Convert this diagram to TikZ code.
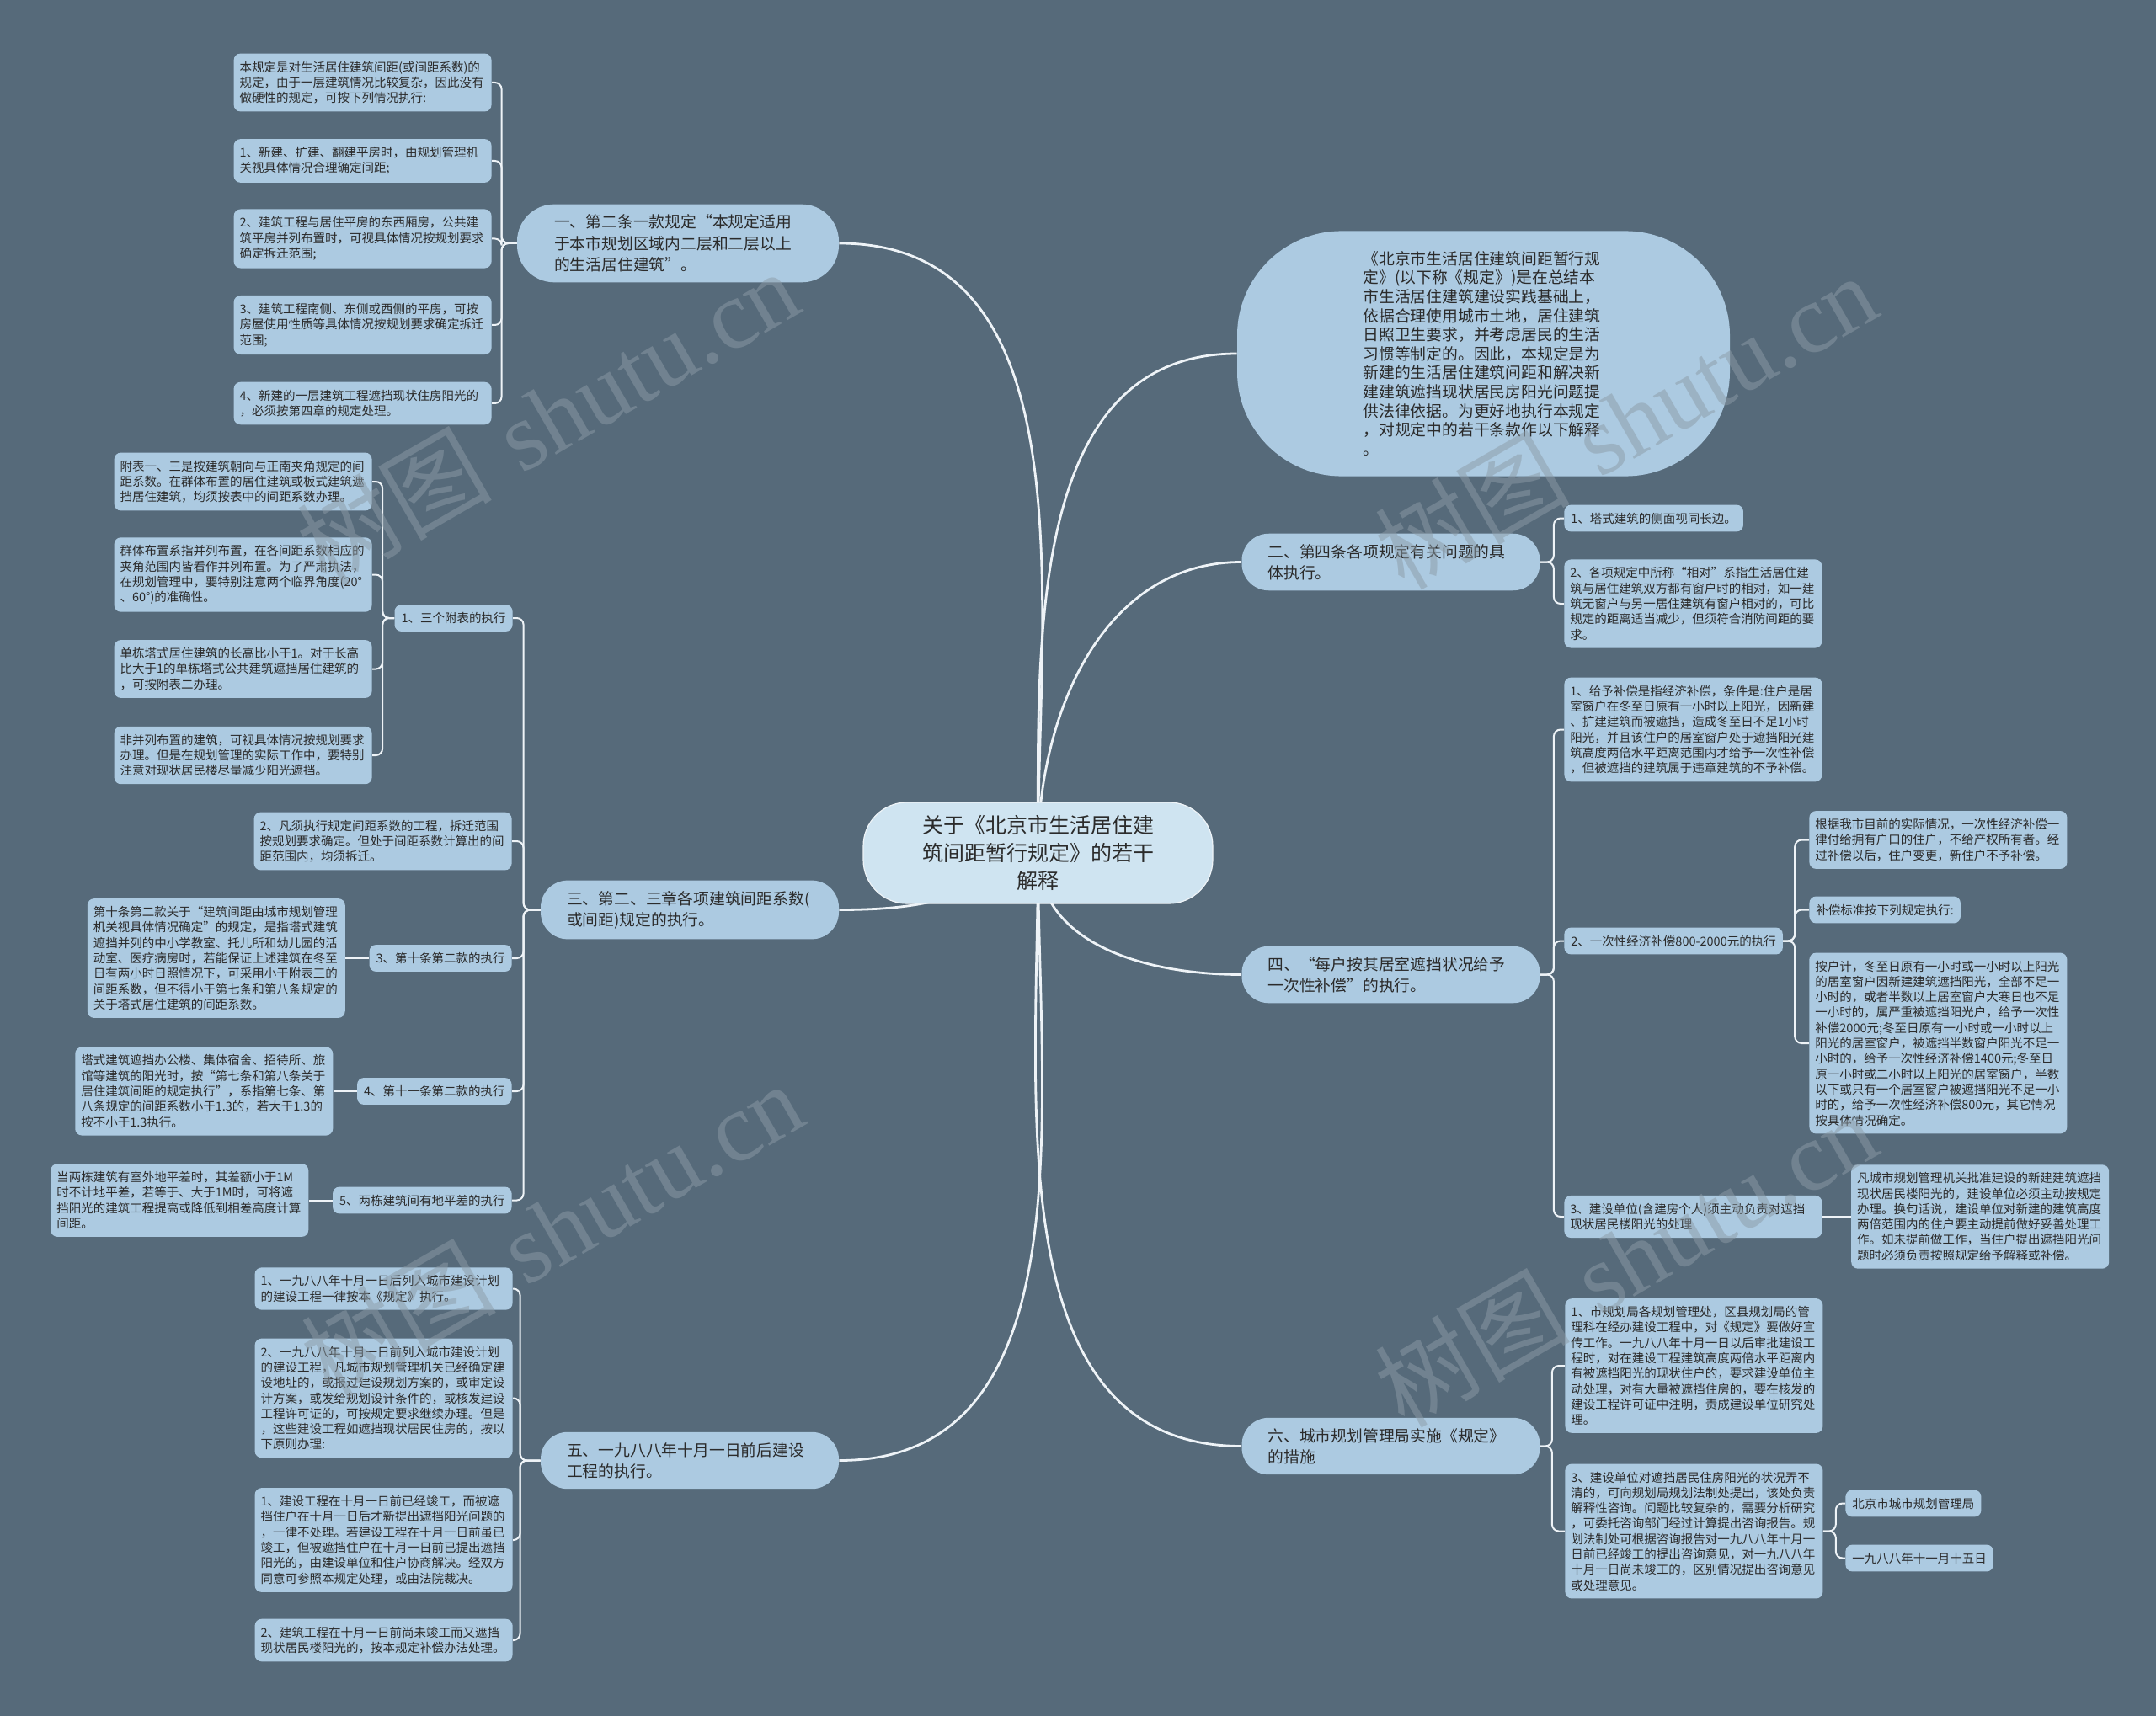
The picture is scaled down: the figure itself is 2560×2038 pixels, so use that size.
\documentclass[tikz,border=0pt]{standalone}
\usepackage{fontspec}
\setmainfont{Noto Sans CJK SC}
\newfontfamily\wmlatin{Liberation Serif}
\usetikzlibrary{positioning}
\definecolor{bgcol}{HTML}{566A7A}
\definecolor{boxcol}{HTML}{ACCAE1}
\definecolor{rootcol}{HTML}{CFE4F1}
\definecolor{inkcol}{HTML}{2B2B2B}
\definecolor{linecol}{HTML}{EEF3F7}
\definecolor{wmcol}{HTML}{8C9BA6}
\newcommand\leafsize{\fontsize{7.25pt}{9.15pt}\selectfont}
\newcommand\branchsize{\fontsize{9.4pt}{12.6pt}\selectfont}
\newcommand\introsize{\fontsize{9.4pt}{11.3pt}\selectfont}
\newcommand\rootsize{\fontsize{12.5pt}{16.3pt}\selectfont}
\newcommand\wmsize{\fontsize{58pt}{58pt}\selectfont}
\pgfdeclarelayer{background}
\pgfsetlayers{background,main}
\tikzset{
  leafbox/.style={fill=boxcol, text=inkcol, rounded corners=4pt, font=\leafsize, align=left, text width=146pt, inner xsep=3.5pt, inner ysep=4.6pt},
  tagbox/.style={fill=boxcol, text=inkcol, rounded corners=4pt, font=\leafsize, align=left, inner xsep=4pt, inner ysep=4.6pt},
  branchbox/.style={fill=boxcol, text=inkcol, rounded corners=16pt, font=\branchsize, align=left, text width=146pt, inner xsep=15.5pt, inner ysep=6.2pt},
  introbox/.style={fill=boxcol, text=inkcol, rounded corners=62pt, font=\introsize, align=left, text width=143pt, inner xsep=74.75pt, inner ysep=12pt},
  rootbox/.style={fill=rootcol, draw=linecol, line width=0.6pt, text=inkcol, rounded corners=26pt, font=\rootsize, align=center, text width=140pt, inner xsep=33.75pt, inner ysep=7.9pt},
  stemline/.style={draw=linecol, line width=1.4pt},
  twigline/.style={draw=linecol, line width=1pt, rounded corners=4pt},
  wmtext/.style={text=wmcol, opacity=0.5, font=\wmsize, rotate=30, inner sep=0pt}
}

\begin{document}
\begin{tikzpicture}[x=0.5pt,y=-0.5pt]
\useasboundingbox (0,0) rectangle (2560,2038);

% centre and first level
\node[rootbox] (root) at (1232.5,1013) {关于《北京市生活居住建\\筑间距暂行规定》的若干\\解释};
\node[introbox] (intro) at (1761.5,420) {《北京市生活居住建筑间距暂行规\\定》(以下称《规定》)是在总结本\\市生活居住建筑建设实践基础上，\\依据合理使用城市土地，居住建筑\\日照卫生要求，并考虑居民的生活\\习惯等制定的。因此，本规定是为\\新建的生活居住建筑间距和解决新\\建建筑遮挡现状居民房阳光问题提\\供法律依据。为更好地执行本规定\\，对规定中的若干条款作以下解释\\。};
\node[branchbox, text width=147pt, inner xsep=22pt, rounded corners=22pt] (b1) at (805,289) {一、第二条一款规定“本规定适用\\于本市规划区域内二层和二层以上\\的生活居住建筑”。};
\node[branchbox] (b2) at (1651.5,667.5) {二、第四条各项规定有关问题的具\\体执行。};
\node[branchbox] (b3) at (819,1080.5) {三、第二、三章各项建筑间距系数(\\或间距)规定的执行。};
\node[branchbox] (b4) at (1651.5,1157.5) {四、“每户按其居室遮挡状况给予\\一次性补偿”的执行。};
\node[branchbox] (b5) at (819,1734.5) {五、一九八八年十月一日前后建设\\工程的执行。};
\node[branchbox] (b6) at (1651.5,1717.5) {六、城市规划管理局实施《规定》\\的措施};

% branch one
\node[leafbox, anchor=east] (a1) at (584,98) {本规定是对生活居住建筑间距(或间距系数)的\\规定，由于一层建筑情况比较复杂，因此没有\\做硬性的规定，可按下列情况执行:};
\node[leafbox, anchor=east] (a2) at (584,191) {1、新建、扩建、翻建平房时，由规划管理机\\关视具体情况合理确定间距;};
\node[leafbox, anchor=east] (a3) at (584,283.5) {2、建筑工程与居住平房的东西厢房，公共建\\筑平房并列布置时，可视具体情况按规划要求\\确定拆迁范围;};
\node[leafbox, anchor=east] (a4) at (584,386) {3、建筑工程南侧、东侧或西侧的平房，可按\\房屋使用性质等具体情况按规划要求确定拆迁\\范围;};
\node[leafbox, anchor=east] (a5) at (584,479) {4、新建的一层建筑工程遮挡现状住房阳光的\\，必须按第四章的规定处理。};

% branch three
\node[tagbox, anchor=east] (t1) at (609,734) {1、三个附表的执行};
\node[leafbox, anchor=east] (p1) at (442,572) {附表一、三是按建筑朝向与正南夹角规定的间\\距系数。在群体布置的居住建筑或板式建筑遮\\挡居住建筑，均须按表中的间距系数办理。};
\node[leafbox, anchor=east] (p2) at (442,682.5) {群体布置系指并列布置，在各间距系数相应的\\夹角范围内皆看作并列布置。为了严肃执法，\\在规划管理中，要特别注意两个临界角度(20°\\、60°)的准确性。};
\node[leafbox, anchor=east] (p3) at (442,794.5) {单栋塔式居住建筑的长高比小于1。对于长高\\比大于1的单栋塔式公共建筑遮挡居住建筑的\\，可按附表二办理。};
\node[leafbox, anchor=east] (p4) at (442,897) {非并列布置的建筑，可视具体情况按规划要求\\办理。但是在规划管理的实际工作中，要特别\\注意对现状居民楼尽量减少阳光遮挡。};
\node[leafbox, anchor=east] (t2) at (608,999) {2、凡须执行规定间距系数的工程，拆迁范围\\按规划要求确定。但处于间距系数计算出的间\\距范围内，均须拆迁。};
\node[tagbox, anchor=east] (t3) at (608,1138) {3、第十条第二款的执行};
\node[leafbox, left=14pt of t3] (t3a) {第十条第二款关于“建筑间距由城市规划管理\\机关视具体情况确定”的规定，是指塔式建筑\\遮挡并列的中小学教室、托儿所和幼儿园的活\\动室、医疗病房时，若能保证上述建筑在冬至\\日有两小时日照情况下，可采用小于附表三的\\间距系数，但不得小于第七条和第八条规定的\\关于塔式居住建筑的间距系数。};
\node[tagbox, anchor=east] (t4) at (608,1296) {4、第十一条第二款的执行};
\node[leafbox, left=14pt of t4] (t4a) {塔式建筑遮挡办公楼、集体宿舍、招待所、旅\\馆等建筑的阳光时，按“第七条和第八条关于\\居住建筑间距的规定执行”，系指第七条、第\\八条规定的间距系数小于1.3的，若大于1.3的\\按不小于1.3执行。};
\node[tagbox, anchor=east] (t5) at (608,1425.5) {5、两栋建筑间有地平差的执行};
\node[leafbox, left=14pt of t5] (t5a) {当两栋建筑有室外地平差时，其差额小于1M\\时不计地平差，若等于、大于1M时，可将遮\\挡阳光的建筑工程提高或降低到相差高度计算\\间距。};

% branch five
\node[leafbox, anchor=east] (e1) at (609,1530.5) {1、一九八八年十月一日后列入城市建设计划\\的建设工程一律按本《规定》执行。};
\node[leafbox, anchor=east] (e2) at (609,1660.5) {2、一九八八年十月一日前列入城市建设计划\\的建设工程，凡城市规划管理机关已经确定建\\设地址的，或报过建设规划方案的，或审定设\\计方案，或发给规划设计条件的，或核发建设\\工程许可证的，可按规定要求继续办理。但是\\，这些建设工程如遮挡现状居民住房的，按以\\下原则办理:};
\node[leafbox, anchor=east] (e3) at (609,1829) {1、建设工程在十月一日前已经竣工，而被遮\\挡住户在十月一日后才新提出遮挡阳光问题的\\，一律不处理。若建设工程在十月一日前虽已\\竣工，但被遮挡住户在十月一日前已提出遮挡\\阳光的，由建设单位和住户协商解决。经双方\\同意可参照本规定处理，或由法院裁决。};
\node[leafbox, anchor=east] (e4) at (609,1948) {2、建筑工程在十月一日前尚未竣工而又遮挡\\现状居民楼阳光的，按本规定补偿办法处理。};

% branch two
\node[tagbox, anchor=west] (r1) at (1857,615.5) {1、塔式建筑的侧面视同长边。};
\node[leafbox, anchor=west] (r2) at (1857,717) {2、各项规定中所称“相对”系指生活居住建\\筑与居住建筑双方都有窗户时的相对，如一建\\筑无窗户与另一居住建筑有窗户相对的，可比\\规定的距离适当减少，但须符合消防间距的要\\求。};

% branch four
\node[leafbox, anchor=west] (q1) at (1857,866.5) {1、给予补偿是指经济补偿，条件是:住户是居\\室窗户在冬至日原有一小时以上阳光，因新建\\、扩建建筑而被遮挡，造成冬至日不足1小时\\阳光，并且该住户的居室窗户处于遮挡阳光建\\筑高度两倍水平距离范围内才给予一次性补偿\\，但被遮挡的建筑属于违章建筑的不予补偿。};
\node[tagbox, anchor=west] (q2) at (1857,1117.5) {2、一次性经济补偿800-2000元的执行};
\node[leafbox, anchor=west] (q2a) at (2148,997.5) {根据我市目前的实际情况，一次性经济补偿一\\律付给拥有户口的住户，不给产权所有者。经\\过补偿以后，住户变更，新住户不予补偿。};
\node[tagbox, anchor=west] (q2b) at (2148,1080.5) {补偿标准按下列规定执行:};
\node[leafbox, anchor=west] (q2c) at (2148,1239) {按户计，冬至日原有一小时或一小时以上阳光\\的居室窗户因新建建筑遮挡阳光，全部不足一\\小时的，或者半数以上居室窗户大寒日也不足\\一小时的，属严重被遮挡阳光户，给予一次性\\补偿2000元;冬至日原有一小时或一小时以上\\阳光的居室窗户，被遮挡半数窗户阳光不足一\\小时的，给予一次性经济补偿1400元;冬至日\\原一小时或二小时以上阳光的居室窗户，半数\\以下或只有一个居室窗户被遮挡阳光不足一小\\时的，给予一次性经济补偿800元，其它情况\\按具体情况确定。};
\node[leafbox, anchor=west] (q3) at (1857,1445) {3、建设单位(含建房个人)须主动负责对遮挡\\现状居民楼阳光的处理};
\node[leafbox, right=17pt of q3] (q3a) {凡城市规划管理机关批准建设的新建建筑遮挡\\现状居民楼阳光的，建设单位必须主动按规定\\办理。换句话说，建设单位对新建的建筑高度\\两倍范围内的住户要主动提前做好妥善处理工\\作。如未提前做工作，当住户提出遮挡阳光问\\题时必须负责按照规定给予解释或补偿。};

% branch six
\node[leafbox, anchor=west] (s1) at (1858,1622) {1、市规划局各规划管理处，区县规划局的管\\理科在经办建设工程中，对《规定》要做好宣\\传工作。一九八八年十月一日以后审批建设工\\程时，对在建设工程建筑高度两倍水平距离内\\有被遮挡阳光的现状住户的，要求建设单位主\\动处理，对有大量被遮挡住房的，要在核发的\\建设工程许可证中注明，责成建设单位研究处\\理。};
\node[leafbox, anchor=west] (s2) at (1858,1818.5) {3、建设单位对遮挡居民住房阳光的状况弄不\\清的，可向规划局规划法制处提出，该处负责\\解释性咨询。问题比较复杂的，需要分析研究\\，可委托咨询部门经过计算提出咨询报告。规\\划法制处可根据咨询报告对一九八八年十月一\\日前已经竣工的提出咨询意见，对一九八八年\\十月一日尚未竣工的，区别情况提出咨询意见\\或处理意见。};
\node[tagbox, anchor=west] (s2a) at (2191,1785.5) {北京市城市规划管理局};
\node[tagbox, anchor=west] (s2b) at (2191,1850.5) {一九八八年十一月十五日};

% watermarks
\node[wmtext] (wm1) at (650,495) {树图\hspace{18pt}{\wmlatin shutu.cn}};
\node[wmtext] (wm2) at (1930,500) {树图\hspace{18pt}{\wmlatin shutu.cn}};
\node[wmtext] (wm3) at (655,1460) {树图\hspace{18pt}{\wmlatin shutu.cn}};
\node[wmtext] (wm4) at (1930,1495) {树图\hspace{18pt}{\wmlatin shutu.cn}};

\begin{pgfonlayer}{background}
\fill[bgcol] (0,0) rectangle (2560,2038);

% main branches
\draw[stemline] (root.center) to[out=90,in=0] (b1.east);
\draw[stemline] (root.center) to[out=90,in=180] (intro.west);
\draw[stemline] (root.center) to[out=90,in=180] (b2.west);
\draw[stemline] (root.center) to[out=215,in=0] (b3.east);
\draw[stemline] (root.center) to[out=-90,in=180] (b4.west);
\draw[stemline] (root.center) to[out=-90,in=0] (b5.east);
\draw[stemline] (root.center) to[out=-90,in=180] (b6.west);

% left brackets
\foreach \c in {a1,a2,a3,a4,a5}
  \draw[twigline] (b1.west) -- ++(-18,0) |- (\c.east);
\foreach \c in {t1,t2,t3,t4,t5}
  \draw[twigline] (b3.west) -- ++(-20,0) |- (\c.east);
\foreach \c in {p1,p2,p3,p4}
  \draw[twigline] (t1.west) -- ++(-14,0) |- (\c.east);
\foreach \c in {e1,e2,e3,e4}
  \draw[twigline] (b5.west) -- ++(-24,0) |- (\c.east);
\draw[twigline] (t3.west) -- (t3a.east);
\draw[twigline] (t4.west) -- (t4a.east);
\draw[twigline] (t5.west) -- (t5a.east);

% right brackets
\foreach \c in {r1,r2}
  \draw[twigline] (b2.east) -- ++(16,0) |- (\c.west);
\foreach \c in {q1,q2,q3}
  \draw[twigline] (b4.east) -- ++(16,0) |- (\c.west);
\foreach \c in {q2a,q2b,q2c}
  \draw[twigline] (q2.east) -- ++(14,0) |- (\c.west);
\draw[twigline] (q3.east) -- (q3a.west);
\foreach \c in {s1,s2}
  \draw[twigline] (b6.east) -- ++(14,0) |- (\c.west);
\foreach \c in {s2a,s2b}
  \draw[twigline] (s2.east) -- ++(15,0) |- (\c.west);
\end{pgfonlayer}
\end{tikzpicture}
\end{document}
